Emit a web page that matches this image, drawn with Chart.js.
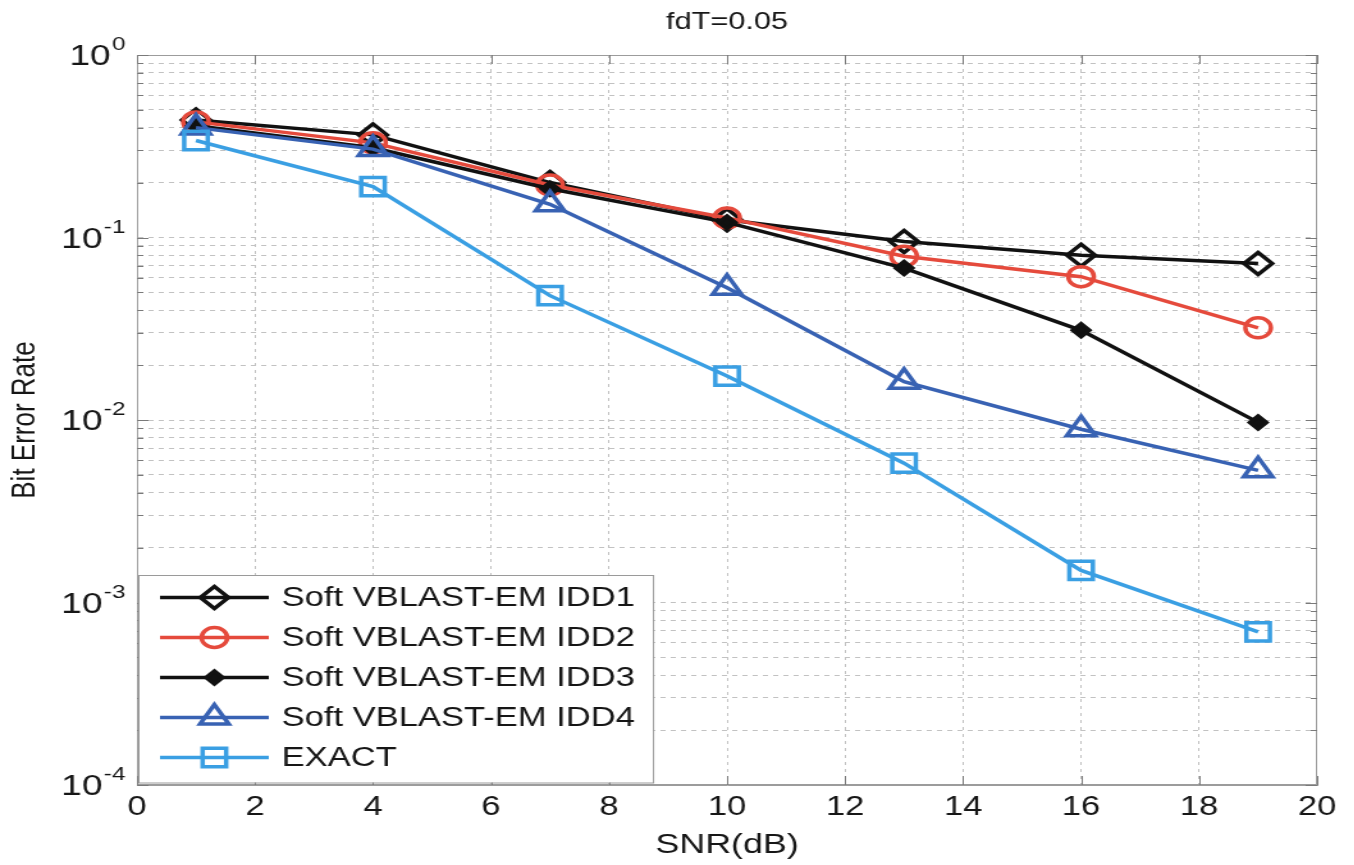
<!DOCTYPE html>
<html>
<head>
<meta charset="utf-8">
<title>fdT=0.05</title>
<script src="https://cdn.jsdelivr.net/npm/chart.js@4.4.1/dist/chart.umd.min.js"></script>
<style>
    html, body { margin: 0; padding: 0; background: #fff; overflow: hidden; }
    /* the figure is exported wider than it was drawn, so stretch it sideways */
    #wrap {
        position: absolute; left: 0; top: 0;
        width: 1058px; height: 865px;
        transform: scaleX(1.28); transform-origin: 0 0;
    }
</style>
</head>
<body>
<div id="wrap"><canvas id="berChart"></canvas></div>
<script>
const snrDb = [1, 4, 7, 10, 13, 16, 19];
const berIdd1 = [0.44, 0.365, 0.20, 0.125, 0.095, 0.080, 0.072];
const berIdd2 = [0.43, 0.33, 0.194, 0.128, 0.079, 0.061, 0.032];
const berIdd3 = [0.41, 0.31, 0.185, 0.121, 0.068, 0.031, 0.0097];
const berIdd4 = [0.40, 0.305, 0.152, 0.053, 0.0162, 0.0089, 0.0053];
const berExact = [0.34, 0.19, 0.048, 0.0174, 0.0058, 0.0015, 0.00069];

const seriesLabels = ['Soft VBLAST-EM IDD1', 'Soft VBLAST-EM IDD2', 'Soft VBLAST-EM IDD3', 'Soft VBLAST-EM IDD4', 'EXACT'];
const yDecades = [1e-4, 1e-3, 1e-2, 1e-1, 1];
const xTickStep = 2;

const FONT = '"Liberation Sans", Arial, Helvetica, sans-serif';
const TEXT_COLOR = '#161616';
const GRID_COLOR = '#c2c2c2';
const FRAME_COLOR = '#9c9c9c';
const LINE_W = 3.5;

Chart.defaults.font.family = FONT;
Chart.defaults.color = TEXT_COLOR;

// minor grid: 1..9 x every decade
const yGridValues = [];
yDecades.slice(0, -1).forEach(d => {
    for (let m = 1; m < 10; m++) yGridValues.push(d * m);
});
yGridValues.push(yDecades[yDecades.length - 1]);

function toPoints(values) {
    return snrDb.map((s, i) => ({ x: s, y: values[i] }));
}

function series(label, values, color, style, radius, filled, order) {
    return {
        label: label,
        data: toPoints(values),
        borderColor: color,
        borderWidth: LINE_W,
        pointStyle: style,
        pointRadius: radius,
        pointHoverRadius: radius,
        pointBorderColor: color,
        pointBorderWidth: LINE_W,
        pointBackgroundColor: filled ? color : 'rgba(0,0,0,0)',
        tension: 0,
        fill: false,
        order: order
    };
}

const datasets = [
    series(seriesLabels[0], berIdd1, '#111111', 'rectRot', 11, false, 5),
    series(seriesLabels[1], berIdd2, '#e54a3c', 'circle', 10, false, 4),
    series(seriesLabels[2], berIdd3, '#111111', 'rectRot', 6.5, true, 3),
    series(seriesLabels[3], berIdd4, '#3862b3', 'triangle', 13, false, 2),
    series(seriesLabels[4], berExact, '#3a9fe3', 'rect', 13, false, 1)
];

function isEdge(scale, value) {
    return Math.abs(value - scale.min) < 1e-12 || Math.abs(value - scale.max) < 1e-12;
}

// frame, inward ticks, decade labels and the boxed legend
const axisDecor = {
    id: 'axisDecor',
    afterDraw(chart) {
        const { ctx, chartArea: a, scales: { x, y } } = chart;
        ctx.save();

        ctx.strokeStyle = FRAME_COLOR;
        ctx.lineWidth = 1;
        ctx.setLineDash([]);
        ctx.strokeRect(a.left + 0.5, a.top + 0.5, a.right - a.left - 1, a.bottom - a.top - 1);

        ctx.strokeStyle = '#7a7a7a';
        ctx.beginPath();
        y.ticks.forEach(t => {
            const py = Math.round(y.getPixelForValue(t.value)) + 0.5;
            const len = yDecades.includes(t.value) ? 9 : 5;
            ctx.moveTo(a.left, py); ctx.lineTo(a.left + len, py);
            ctx.moveTo(a.right, py); ctx.lineTo(a.right - len, py);
        });
        x.ticks.forEach(t => {
            const px = Math.round(x.getPixelForValue(t.value)) + 0.5;
            ctx.moveTo(px, a.bottom); ctx.lineTo(px, a.bottom - 9);
            ctx.moveTo(px, a.top); ctx.lineTo(px, a.top + 9);
        });
        ctx.stroke();

        // 10^n labels
        ctx.fillStyle = TEXT_COLOR;
        ctx.textBaseline = 'alphabetic';
        const labelRight = a.left - 9;
        yDecades.forEach(v => {
            const exp = String(Math.round(Math.log10(v)));
            const py = y.getPixelForValue(v);
            ctx.font = '19px ' + FONT;
            const expW = ctx.measureText(exp).width;
            ctx.textAlign = 'left';
            ctx.fillText(exp, labelRight - expW, py - 5);
            ctx.font = '29px ' + FONT;
            ctx.textAlign = 'right';
            ctx.fillText('10', labelRight - expW - 1, py + 10);
        });

        // legend
        const rowH = 40;
        const rowY0 = 597.5;
        const boxLeft = a.left + 1;
        const boxTop = rowY0 - 22.5;
        const boxBottom = rowY0 + rowH * (datasets.length - 1) + 25;
        const lineX0 = 125, lineX1 = 210, textX = 220;
        ctx.font = '27px ' + FONT;
        let textW = 0;
        datasets.forEach(ds => { textW = Math.max(textW, ctx.measureText(ds.label).width); });
        const boxRight = textX + textW + 14;
        ctx.fillStyle = '#ffffff';
        ctx.fillRect(boxLeft, boxTop, boxRight - boxLeft, boxBottom - boxTop);
        ctx.strokeStyle = '#9a9a9a';
        ctx.lineWidth = 1;
        ctx.strokeRect(boxLeft + 0.5, boxTop + 0.5, boxRight - boxLeft, boxBottom - boxTop);

        datasets.forEach((ds, i) => {
            const cy = rowY0 + i * rowH;
            ctx.strokeStyle = ds.borderColor;
            ctx.lineWidth = LINE_W;
            ctx.beginPath();
            ctx.moveTo(lineX0, cy);
            ctx.lineTo(lineX1, cy);
            ctx.stroke();
            ctx.fillStyle = ds.pointBackgroundColor;
            Chart.helpers.drawPoint(ctx, {
                pointStyle: ds.pointStyle,
                radius: ds.pointRadius,
                borderWidth: LINE_W,
                rotation: 0
            }, (lineX0 + lineX1) / 2, cy);
            ctx.fillStyle = TEXT_COLOR;
            ctx.textAlign = 'left';
            ctx.textBaseline = 'middle';
            ctx.fillText(ds.label, textX, cy + 1);
        });

        ctx.restore();
    }
};

new Chart(document.getElementById('berChart'), {
    type: 'line',
    data: { datasets: datasets },
    options: {
        responsive: true,
        maintainAspectRatio: false,
        animation: false,
        layout: { padding: { left: 0, right: 29, top: 0, bottom: 0 } },
        scales: {
            x: {
                type: 'linear',
                min: 0,
                max: 20,
                ticks: { stepSize: xTickStep, font: { size: 27 }, color: TEXT_COLOR, padding: 6, maxRotation: 0 },
                grid: {
                    color: c => isEdge(c.scale, c.tick.value) ? 'rgba(0,0,0,0)' : GRID_COLOR,
                    lineWidth: 1,
                    drawTicks: false
                },
                border: { display: true, color: FRAME_COLOR, dash: [3, 4] },
                title: { display: true, text: 'SNR(dB)', font: { size: 28 }, color: TEXT_COLOR, padding: { top: 2, bottom: 3 } },
                afterFit: s => { s.height = 80; }
            },
            y: {
                type: 'logarithmic',
                min: yDecades[0],
                max: yDecades[yDecades.length - 1],
                afterBuildTicks: s => { s.ticks = yGridValues.map(v => ({ value: v })); },
                ticks: { display: false },
                grid: {
                    color: c => isEdge(c.scale, c.tick.value) ? 'rgba(0,0,0,0)' : GRID_COLOR,
                    lineWidth: 1,
                    drawTicks: false
                },
                border: { display: true, color: FRAME_COLOR, dash: [4, 4] },
                title: { display: true, text: 'Bit Error Rate', font: { size: 26 }, color: TEXT_COLOR, padding: { top: 4, bottom: 0 } },
                afterFit: s => { s.width = 107; }
            }
        },
        plugins: {
            legend: { display: false },
            tooltip: { enabled: false },
            title: {
                display: true,
                text: 'fdT=0.05',
                fullSize: false,
                font: { size: 24, weight: 'normal' },
                color: TEXT_COLOR,
                padding: { top: 8, bottom: 18.2 }
            }
        }
    },
    plugins: [axisDecor]
});
</script>
</body>
</html>
